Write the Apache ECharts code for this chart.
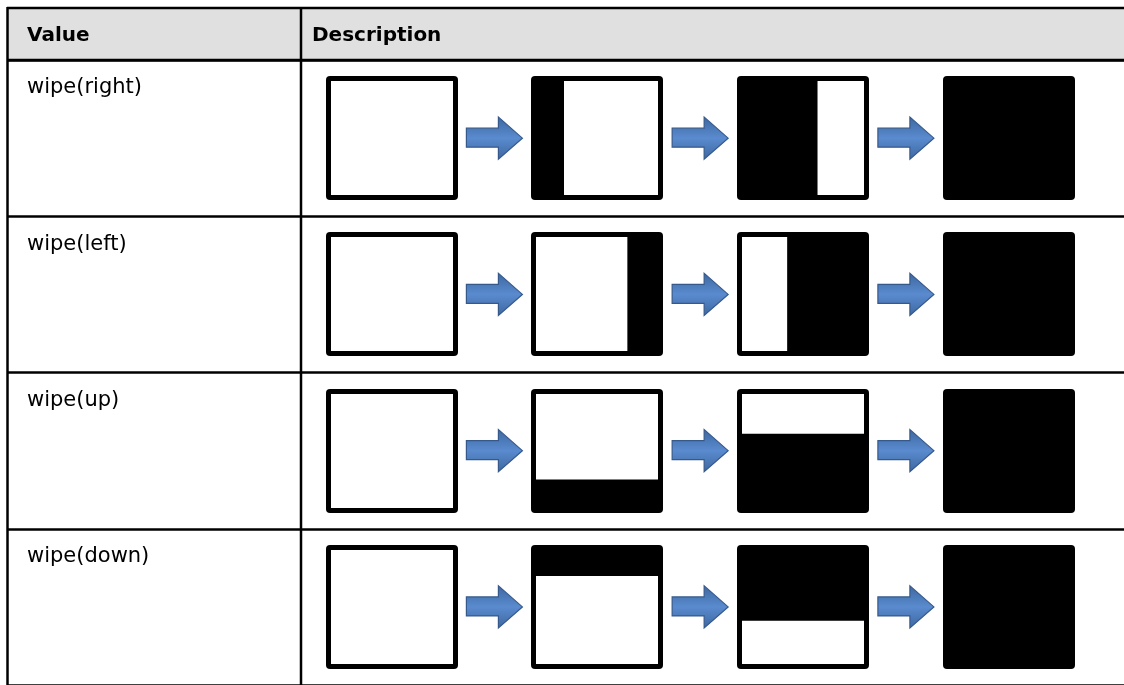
<!DOCTYPE html>
<html>
<head>
<meta charset="utf-8">
<style>
html,body{margin:0;padding:0;background:#fff;}
#chart{width:1124px;height:685px;}
</style>
<script src="https://cdn.jsdelivr.net/npm/echarts@6/dist/echarts.min.js"></script>
</head>
<body>
<div id="chart"></div>
<script>
// ---- data ----
const headers = ['Value', 'Description'];
const rows = ['wipe(right)', 'wipe(left)', 'wipe(up)', 'wipe(down)'];
const directions = ['right', 'left', 'up', 'down'];
const steps = [0, 1, 2, 3];
const fillRight = [0, 0.25, 0.61, 1];
const fillLeft = [0, 0.27, 0.62, 1];
const fillUp = [0, 0.27, 0.64, 1];
const fillDown = [0, 0.25, 0.61, 1];
const fills = [fillRight, fillLeft, fillUp, fillDown];

const X_MIN = -1.864, X_MAX = 3.56;

// ---- build series data ----
const boxData = [];
rows.forEach(function (r, ri) {
  steps.forEach(function (s) { boxData.push([s, ri, fills[ri][s], ri]); });
});
const arrowData = [];
rows.forEach(function (r, ri) {
  for (let s = 0; s < steps.length - 1; s++) arrowData.push([s + 0.5, ri]);
});
const labelData = rows.map(function (r, ri) { return [X_MIN, ri]; });

const FONT = '"DejaVu Sans", Verdana, sans-serif';
const chart = echarts.init(document.getElementById('chart'), null, { renderer: 'canvas' });

function renderBox(params, api) {
  const c = api.coord([api.value(0), api.value(1)]);
  const f = api.value(2);
  const dir = directions[api.value(3)];
  const W = 132, H = 124, B = 5;
  const x0 = Math.round(c[0] - W / 2), y0 = Math.round(c[1] - H / 2);
  const children = [{
    type: 'rect', shape: { x: x0, y: y0, width: W, height: H, r: 4 },
    style: { fill: '#000' }
  }];
  if (f < 1) {
    let wx = x0 + B, wy = y0 + B, ww = W - 2 * B, wh = H - 2 * B;
    if (dir === 'right') { const b = Math.max(f * W, B); wx = x0 + b; ww = x0 + W - B - wx; }
    if (dir === 'left') { const b = Math.max(f * W, B); ww = x0 + W - b - wx; }
    if (dir === 'up') { const b = Math.max(f * H, B); wh = y0 + H - b - wy; }
    if (dir === 'down') { const b = Math.max(f * H, B); wy = y0 + b; wh = y0 + H - B - wy; }
    children.push({ type: 'rect', shape: { x: wx, y: wy, width: ww, height: wh }, style: { fill: '#fff' } });
  }
  return { type: 'group', children: children };
}

function renderArrow(params, api) {
  const c = api.coord([api.value(0), api.value(1)]);
  const cx = c[0], cy = c[1];
  const pts = [
    [cx - 28, cy - 10], [cx + 4, cy - 10], [cx + 4, cy - 21], [cx + 28, cy],
    [cx + 4, cy + 21], [cx + 4, cy + 9], [cx - 28, cy + 9]
  ];
  return {
    type: 'polygon', shape: { points: pts },
    style: {
      fill: new echarts.graphic.LinearGradient(0, 0, 0, 1, [
        { offset: 0, color: '#3d679f' }, { offset: 0.5, color: '#5a8bcf' }, { offset: 1, color: '#3d679f' }
      ]),
      stroke: '#36598c', lineWidth: 1.2
    }
  };
}

function renderLabel(params, api) {
  const c = api.coord([api.value(0), api.value(1)]);
  const bandH = api.size([0, 1])[1];
  return {
    type: 'text',
    style: {
      x: c[0] + 19, y: c[1] - bandH / 2 + 28,
      text: rows[api.value(1)], font: '21px ' + FONT, fill: '#000',
      align: 'left', verticalAlign: 'middle'
    }
  };
}

const option = {
  animation: false,
  backgroundColor: '#fff',
  grid: { left: 8, top: 60, width: 1116, height: 630, containLabel: false },
  xAxis: {
    type: 'value', min: X_MIN, max: X_MAX,
    show: false, splitLine: { show: false }
  },
  yAxis: {
    type: 'category', data: rows, inverse: true, boundaryGap: true,
    axisLabel: { show: false }, axisTick: { show: false },
    axisLine: { show: false, onZero: false },
    splitLine: { show: true, interval: 0, lineStyle: { color: '#000', width: 2.5 } }
  },
  graphic: [
    { type: 'rect', z: 0, shape: { x: 8, y: 8, width: 1130, height: 52 }, style: { fill: '#e0e0e0' } },
    { type: 'line', z: 10, shape: { x1: 7, y1: 8, x2: 1130, y2: 8 }, style: { stroke: '#000', lineWidth: 2.5 } },
    { type: 'line', z: 10, shape: { x1: 7, y1: 60, x2: 1130, y2: 60 }, style: { stroke: '#000', lineWidth: 2.5 } },
    { type: 'line', z: 10, shape: { x1: 7.5, y1: 7, x2: 7.5, y2: 690 }, style: { stroke: '#000', lineWidth: 2.5 } },
    { type: 'line', z: 10, shape: { x1: 301, y1: 7, x2: 301, y2: 690 }, style: { stroke: '#000', lineWidth: 2.5 } },
    { type: 'text', z: 10, style: { x: 27, y: 36, text: headers[0], font: 'bold 20px ' + FONT, fill: '#000', verticalAlign: 'middle' } },
    { type: 'text', z: 10, style: { x: 312, y: 36, text: headers[1], font: 'bold 20px ' + FONT, fill: '#000', verticalAlign: 'middle' } }
  ],
  series: [
    { type: 'custom', name: 'boxes', renderItem: renderBox, data: boxData, encode: { x: 0, y: 1 }, clip: false },
    { type: 'custom', name: 'arrows', renderItem: renderArrow, data: arrowData, encode: { x: 0, y: 1 }, clip: false },
    { type: 'custom', name: 'labels', renderItem: renderLabel, data: labelData, encode: { x: 0, y: 1 }, clip: false }
  ]
};
chart.setOption(option);
</script>
</body>
</html>
